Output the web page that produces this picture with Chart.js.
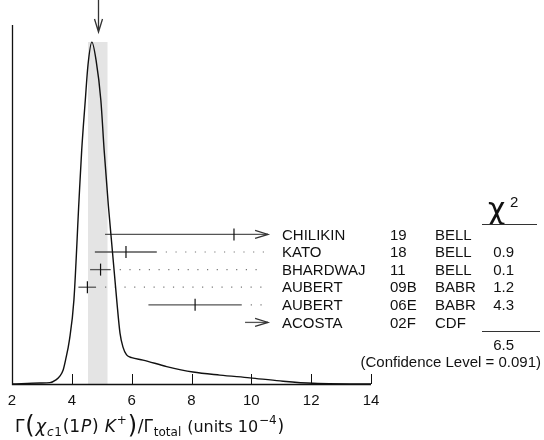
<!DOCTYPE html>
<html>
<head>
<title>Ideogram</title>
<script src="https://cdn.jsdelivr.net/npm/chart.js@4.4.2/dist/chart.umd.js"></script>
<style>
html, body {
    margin: 0;
    padding: 0;
    background: #fff;
}
</style>
</head>
<body>
<canvas id="chart" width="544" height="440"></canvas>
<script>
// ideogram curve (x in units 1e-4, y normalised to peak)
const curveX = [2.0, 2.94, 3.27, 3.47, 3.6, 3.71, 3.79, 3.92, 4.07, 4.24, 4.33, 4.45, 4.54, 4.67, 4.81, 4.97, 5.08, 5.22, 5.5, 5.61, 5.71, 5.83, 6.0, 6.38, 7.17, 8.05, 8.95, 9.95, 10.96, 12.06, 13.86, 14.0];
const curveY = [0, 0.003, 0.004, 0.012, 0.023, 0.041, 0.07, 0.129, 0.246, 0.538, 0.684, 0.83, 0.933, 1.0, 0.947, 0.83, 0.684, 0.523, 0.246, 0.149, 0.108, 0.085, 0.077, 0.07, 0.051, 0.035, 0.026, 0.018, 0.009, 0.002, 0, 0];

// weighted average and its error (grey band + arrow on top)
const fitValue = 4.87;
const fitError = 0.33;

// measurements
const names = ["CHILIKIN", "KATO", "BHARDWAJ", "AUBERT", "AUBERT", "ACOSTA"];
const docIds = ["19", "18", "11", "09B", "06E", "02F"];
const techs = ["BELL", "BELL", "BELL", "BABR", "BABR", "CDF"];
const chi2 = ["", "0.9", "0.1", "1.2", "4.3", ""];
const values = [9.42, 5.81, 4.96, 4.52, 8.12, null];
const lows = [5.11, 4.77, 4.61, 4.22, 6.56, 9.79];
const highs = [10.56, 6.84, 5.30, 4.81, 9.68, 10.56];
const arrows = [true, false, false, false, false, true];
const arrowAt = 10.56;

const chi2Total = "6.5";
const confLevel = "(Confidence Level = 0.091)";
const xTicks = [2, 4, 6, 8, 10, 12, 14];

const FONT = "15px 'Liberation Sans', Arial, sans-serif";

let datasets = [];

datasets.push({
    data: curveX.map((x, i) => ({x: x, y: curveY[i]})),
    borderColor: "#111",
    borderWidth: 1.4,
    pointRadius: 0,
    cubicInterpolationMode: "monotone",
    order: 1
});

names.forEach((n, i) => {
    let row = i + 1;
    datasets.push({
        data: [{x: lows[i], y: row}, {x: highs[i], y: row}],
        yAxisID: "yr",
        borderColor: "#555",
        borderWidth: 1.3,
        pointRadius: 0,
        order: 2
    });
    if (highs[i] < arrowAt - 0.2) {
        datasets.push({
            data: [{x: highs[i] + 0.3, y: row}, {x: arrowAt - 0.1, y: row}],
            yAxisID: "yr",
            borderColor: "#777",
            borderWidth: 1.2,
            borderDash: [1.2, 8.5],
            pointRadius: 0,
            order: 2
        });
    }
    if (values[i] !== null) {
        datasets.push({
            type: "scatter",
            data: [{x: values[i], y: row}],
            yAxisID: "yr",
            pointStyle: "line",
            rotation: 90,
            pointRadius: 6,
            borderColor: "#111",
            borderWidth: 1.2,
            order: 0
        });
    }
});

// grey band for the fit
datasets.push({
    data: [{x: fitValue - fitError, y: 1.0}, {x: fitValue + fitError, y: 1.0}],
    borderWidth: 0,
    pointRadius: 0,
    fill: "origin",
    backgroundColor: "#e4e4e4",
    order: 10
});

const decor = {
    id: "decor",
    afterDraw(chart) {
        const ctx = chart.ctx;
        const xs = chart.scales.x;
        const yr = chart.scales.yr;
        const area = chart.chartArea;
        ctx.save();

        // axes
        ctx.strokeStyle = "#111";
        ctx.lineWidth = 1.3;
        ctx.beginPath();
        ctx.moveTo(area.left + 0.5, area.top);
        ctx.lineTo(area.left + 0.5, area.bottom + 0.5);
        ctx.lineTo(area.right, area.bottom + 0.5);
        ctx.stroke();

        ctx.lineWidth = 1;
        ctx.beginPath();
        xTicks.slice(1).forEach(t => {
            let px = Math.round(xs.getPixelForValue(t)) + 0.5;
            ctx.moveTo(px, area.bottom);
            ctx.lineTo(px, area.bottom - 10);
        });
        ctx.stroke();

        ctx.fillStyle = "#111";
        ctx.font = FONT;
        ctx.textAlign = "center";
        ctx.textBaseline = "middle";
        xTicks.forEach(t => {
            ctx.fillText(String(t), xs.getPixelForValue(t), area.bottom + 17);
        });

        // arrow above the fit value
        let ax = Math.round(xs.getPixelForValue(fitValue)) + 0.5;
        ctx.strokeStyle = "#333";
        ctx.lineWidth = 1.3;
        ctx.beginPath();
        ctx.moveTo(ax, 0);
        ctx.lineTo(ax, 32);
        ctx.moveTo(ax - 4, 19);
        ctx.lineTo(ax, 32);
        ctx.lineTo(ax + 4, 19);
        ctx.stroke();

        // arrow heads on the right of the measurements
        ctx.strokeStyle = "#333";
        ctx.lineWidth = 1.2;
        names.forEach((n, i) => {
            if (!arrows[i]) return;
            let px = xs.getPixelForValue(arrowAt);
            let py = yr.getPixelForValue(i + 1);
            ctx.beginPath();
            ctx.moveTo(px - 13, py - 4);
            ctx.lineTo(px, py);
            ctx.lineTo(px - 13, py + 4);
            ctx.stroke();
        });

        // table
        ctx.fillStyle = "#111";
        ctx.font = FONT;
        ctx.textBaseline = "middle";
        names.forEach((n, i) => {
            let py = yr.getPixelForValue(i + 1) + 1;
            ctx.textAlign = "left";
            ctx.fillText(n, 282, py);
            ctx.fillText(docIds[i], 390, py);
            ctx.fillText(techs[i], 435, py);
            ctx.textAlign = "right";
            ctx.fillText(chi2[i], 514, py);
        });

        // chi2 header and totals
        ctx.textBaseline = "alphabetic";
        ctx.textAlign = "left";
        ctx.font = "30px 'DejaVu Sans', sans-serif";
        ctx.fillText("\u03c7", 488, 219);
        ctx.font = FONT;
        ctx.fillText("2", 510, 207);
        ctx.strokeStyle = "#333";
        ctx.lineWidth = 1.2;
        ctx.beginPath();
        ctx.moveTo(482, 224.5);
        ctx.lineTo(537, 224.5);
        ctx.moveTo(482, 331.5);
        ctx.lineTo(540, 331.5);
        ctx.stroke();
        ctx.textAlign = "right";
        ctx.fillText(chi2Total, 514, 350);
        ctx.fillText(confLevel, 541, 367);

        // x-axis title with sub/superscripts
        const parts = [
            ["\u0393", "17px 'DejaVu Sans'", 0],
            ["(", "24px 'DejaVu Sans'", 1],
            ["\u03c7", "italic 18px 'DejaVu Sans'", 0],
            ["c", "italic 12px 'DejaVu Sans'", 4],
            ["1", "12px 'DejaVu Sans'", 4],
            ["(1", "17px 'DejaVu Sans'", 0],
            ["P", "italic 17px 'DejaVu Sans'", 0],
            [") ", "17px 'DejaVu Sans'", 0],
            ["K", "italic 17px 'DejaVu Sans'", 0],
            ["+", "12px 'DejaVu Sans'", -8],
            [")", "24px 'DejaVu Sans'", 1],
            ["/\u0393", "17px 'DejaVu Sans'", 0],
            ["total", "12px 'DejaVu Sans'", 4],
            [" (units 10", "16px 'DejaVu Sans'", 0],
            ["\u22124", "12px 'DejaVu Sans'", -8],
            [")", "17px 'DejaVu Sans'", 0]
        ];
        ctx.textAlign = "left";
        let tx = 15;
        parts.forEach(([t, f, dy]) => {
            ctx.font = f;
            ctx.fillText(t, tx, 432 + dy);
            tx += ctx.measureText(t).width + 0.8;
        });

        ctx.restore();
    }
};

const chart = new Chart(document.getElementById("chart").getContext("2d"), {
    type: "line",
    data: {datasets: datasets},
    options: {
        responsive: false,
        animation: false,
        layout: {padding: {left: 12, right: 173, top: 25, bottom: 56}},
        scales: {
            x: {type: "linear", min: 2, max: 14, display: false},
            y: {min: 0, max: 1.05, display: false},
            yr: {min: -10.9, max: 9.5, reverse: true, display: false}
        },
        plugins: {
            legend: {display: false},
            tooltip: {enabled: false}
        }
    },
    plugins: [decor]
});
</script>
</body>
</html>
